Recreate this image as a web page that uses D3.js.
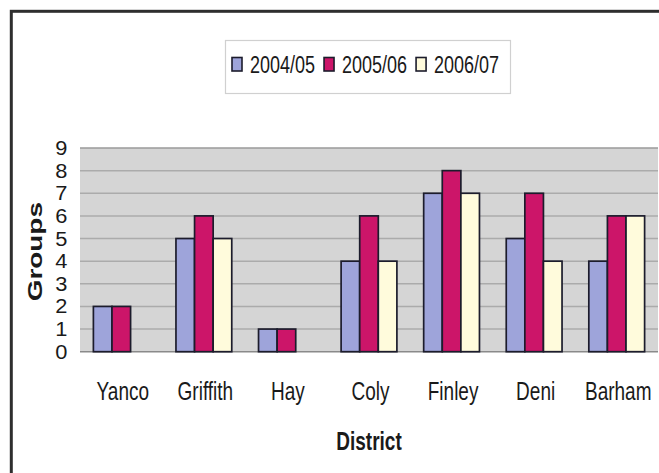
<!DOCTYPE html>
<html>
<head>
<meta charset="utf-8">
<script src="https://cdn.jsdelivr.net/npm/d3@7"></script>
<style>
  html, body { margin: 0; padding: 0; background: #ffffff; }
  svg { display: block; }
  text { font-family: "Liberation Sans", Arial, sans-serif; fill: #1a1a1a; }
</style>
</head>
<body>
<svg id="chart" width="659" height="473"></svg>
<script>
// Districts along the x axis
const districts = ["Yanco", "Griffith", "Hay", "Coly", "Finley", "Deni", "Barham"];
// Seasons shown in the legend
const seasons = ["2004/05", "2005/06", "2006/07"];
// Number of groups per district for each season (null = no bar)
const groups0405 = [2, 5, 1, 4, 7, 5, 4];
const groups0506 = [2, 6, 1, 6, 8, 7, 6];
const groups0607 = [null, 5, null, 4, 7, 4, 6];
// Y axis tick values
const yTicks = [0, 1, 2, 3, 4, 5, 6, 7, 8, 9];

const seriesValues = [groups0405, groups0506, groups0607];
const seriesColors = ["#9ea4da", "#cc1569", "#fffbdc"];

const svg = d3.select("#chart");
const W = 659, H = 473;
const plot = { left: 80, right: 658, top: 148, bottom: 351.7 };
const SY = 1.33; // vertical stretch applied to lettering

// Outer frame
svg.append("rect").attr("x", 0).attr("y", 0).attr("width", W).attr("height", H).attr("fill", "#fff");
svg.append("rect")
  .attr("x", 11.3).attr("y", 11.3)
  .attr("width", W + 20).attr("height", H + 20)
  .attr("fill", "#ffffff").attr("stroke", "#2e2e2e").attr("stroke-width", 3);

// Scales
const x0 = d3.scaleBand().domain(districts).range([plot.left, plot.right]).paddingInner(0).paddingOuter(0);
const x1 = d3.scaleBand().domain(seasons).range([0, x0.bandwidth()]).paddingInner(0).paddingOuter(0.72);
const y = d3.scaleLinear().domain([0, 9]).range([plot.bottom, plot.top]);

// Plot background
svg.append("rect")
  .attr("x", plot.left).attr("y", plot.top)
  .attr("width", plot.right - plot.left).attr("height", plot.bottom - plot.top)
  .attr("fill", "#d5d5d5");

// Horizontal gridlines
svg.append("g")
  .selectAll("line")
  .data(yTicks.filter(d => d > 0))
  .join("line")
  .attr("x1", plot.left).attr("x2", plot.right)
  .attr("y1", d => y(d)).attr("y2", d => y(d))
  .attr("stroke", d => d === 9 ? "#9a9a9a" : "#ababab")
  .attr("stroke-width", 1.5);

// Baseline
svg.append("line")
  .attr("x1", plot.left).attr("x2", plot.right)
  .attr("y1", y(0)).attr("y2", y(0))
  .attr("stroke", "#8a8a8a").attr("stroke-width", 1.5);

// Bars
const barData = [];
districts.forEach((d, i) => {
  seasons.forEach((s, j) => {
    const v = seriesValues[j][i];
    if (v !== null && v !== undefined) barData.push({ district: d, season: s, value: v, color: seriesColors[j] });
  });
});
svg.append("g")
  .selectAll("rect")
  .data(barData)
  .join("rect")
  .attr("x", d => x0(d.district) + x1(d.season))
  .attr("y", d => y(d.value))
  .attr("width", x1.bandwidth())
  .attr("height", d => y(0) - y(d.value))
  .attr("fill", d => d.color)
  .attr("stroke", "#1c1c2c")
  .attr("stroke-width", 1.7);

// Y axis tick labels
const yAxis = svg.append("g");
yTicks.forEach(t => {
  yAxis.append("text")
    .attr("transform", `translate(67.5, ${y(t)}) scale(1.12, 1)`)
    .attr("text-anchor", "end")
    .attr("dy", "0.36em")
    .style("font-size", "19.5px")
    .text(t);
});

// X axis category labels
const xAxis = svg.append("g");
districts.forEach(d => {
  xAxis.append("text")
    .attr("transform", `translate(${x0(d) + x0.bandwidth() / 2 + 1.5}, 399.5) scale(1, ${SY})`)
    .attr("text-anchor", "middle")
    .style("font-size", "19px")
    .text(d);
});

// Axis titles
svg.append("text")
  .attr("transform", `translate(${(plot.left + plot.right) / 2}, 450) scale(1, ${SY})`)
  .attr("text-anchor", "middle")
  .style("font-size", "19px")
  .style("font-weight", "bold")
  .text("District");

svg.append("g")
  .attr("transform", `translate(42, 251.7) scale(1, ${SY})`)
  .append("text")
  .attr("transform", "rotate(-90)")
  .attr("text-anchor", "middle")
  .style("font-size", "21px")
  .style("font-weight", "bold")
  .text("Groups");

// Legend
const legend = svg.append("g");
legend.append("rect")
  .attr("x", 225.5).attr("y", 40.5).attr("width", 285).attr("height", 53)
  .attr("fill", "#ffffff").attr("stroke", "#d0d0d0").attr("stroke-width", 1.2);
let lx = 232;
seasons.forEach((s, j) => {
  legend.append("rect")
    .attr("x", lx).attr("y", 57.5).attr("width", 10).attr("height", 13.5)
    .attr("fill", seriesColors[j]).attr("stroke", "#1c1c2c").attr("stroke-width", 1.6);
  const t = legend.append("text")
    .attr("transform", `translate(${lx + 18}, 73) scale(1, 1.37)`)
    .style("font-size", "18px")
    .text(s);
  lx += 18 + t.node().getComputedTextLength() + 9;
});
</script>
</body>
</html>
